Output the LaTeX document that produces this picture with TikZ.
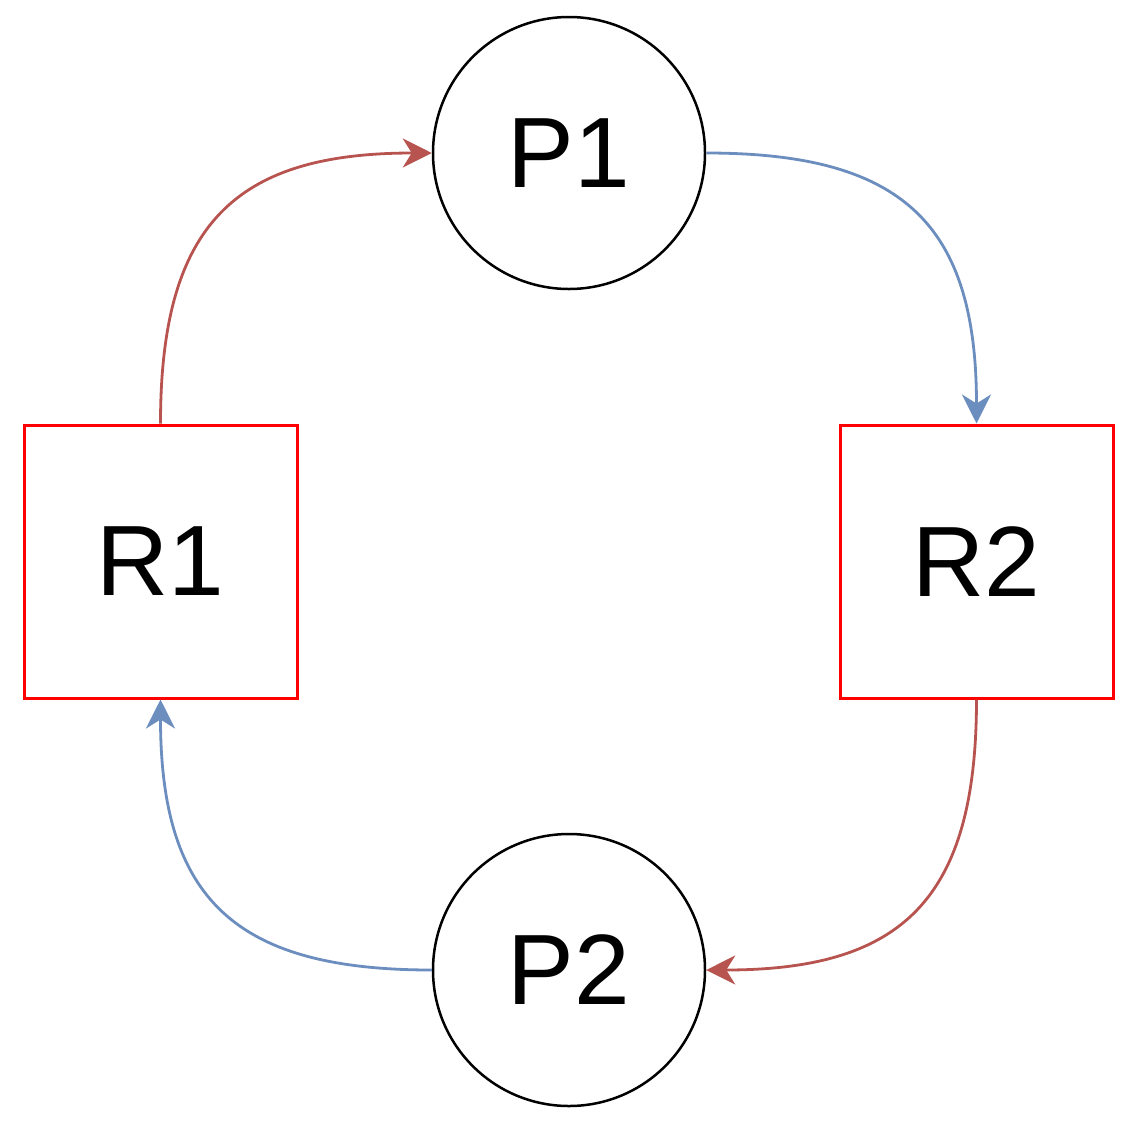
\documentclass[tikz,border=0pt]{standalone}
\usepackage{fontspec}
\setmainfont{Liberation Sans}
\usetikzlibrary{arrows.meta}
\definecolor{edgered}{HTML}{B85450}
\definecolor{edgeblue}{HTML}{6C8EBF}
\begin{document}
\begin{tikzpicture}[x=1pt,y=-1pt,
  place/.style={circle,draw=black,line width=2.5pt,minimum size=272pt,inner sep=0pt,font=\fontsize{100}{100}\selectfont},
  res/.style={rectangle,draw=red,line width=3pt,minimum size=273pt,inner sep=0pt,font=\fontsize{100}{100}\selectfont},
  conn/.style={line width=2.8pt,-{Stealth[length=29pt,width=29pt,inset=9pt]}},
  redconn/.style={conn,draw=edgered},
  blueconn/.style={conn,draw=edgeblue}]
\useasboundingbox (0,0) rectangle (1146,1128);
\node[place] (P1) at (569,153) {P1};
\node[place] (P2) at (569,970) {P2};
\node[res] (R1) at (160.5,561.5) {R1};
\node[res] (R2) at (976.5,561.5) {R2};
\draw[redconn] (R1.north) .. controls +(0,-200) and +(-196,0) .. (P1.west);
\draw[blueconn] (P1.east) .. controls +(196,0) and +(0,-200) .. (R2.north);
\draw[redconn] (R2.south) .. controls +(0,200) and +(196,0) .. (P2.east);
\draw[blueconn] (P2.west) .. controls +(-196,0) and +(0,200) .. (R1.south);
\end{tikzpicture}
\end{document}
